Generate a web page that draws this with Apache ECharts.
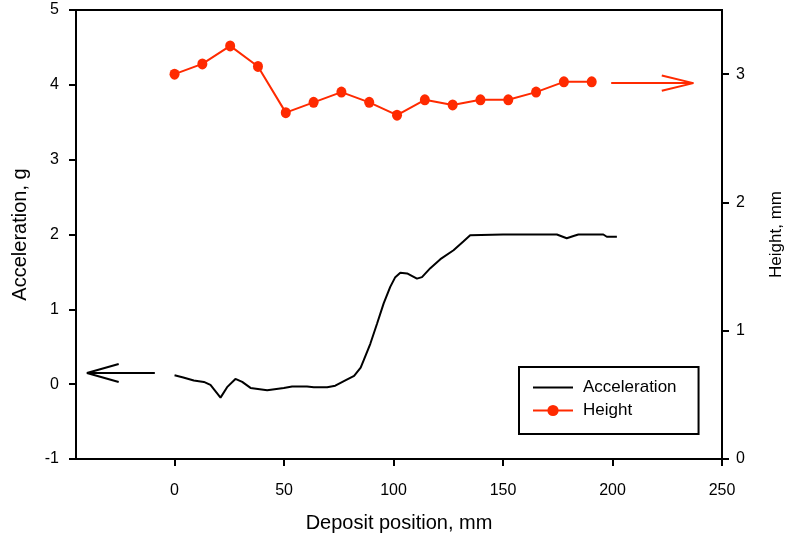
<!DOCTYPE html>
<html>
<head>
<meta charset="utf-8">
<script src="https://cdn.jsdelivr.net/npm/echarts@6/dist/echarts.min.js"></script>
<style>html,body{margin:0;padding:0;background:#fff}#c{width:785px;height:540px}</style>
</head>
<body>
<div id="c"></div>
<script>
// Acceleration trace (left axis)
const accX = [0, 4, 8.8, 13.4, 16.4, 21, 24, 27.8, 30.9, 34.7, 42.3, 49.9, 53.7, 60.5, 63.6, 69.7, 73.4, 78, 82, 85, 86.4, 89.4, 92.5, 95.5, 98.5, 100.8, 103.1, 106.2, 110.7, 113, 116.8, 121.4, 127.4, 132, 135, 150, 174.6, 179.1, 182.2, 184.4, 195.8, 197.4, 202];
const accY = [0.12, 0.09, 0.05, 0.03, -0.01, -0.18, -0.04, 0.07, 0.03, -0.05, -0.08, -0.05, -0.03, -0.03, -0.04, -0.04, -0.02, 0.05, 0.11, 0.22, 0.32, 0.54, 0.81, 1.08, 1.30, 1.43, 1.49, 1.48, 1.41, 1.43, 1.55, 1.67, 1.79, 1.91, 1.99, 2.0, 2.0, 1.95, 1.98, 2.0, 2.0, 1.97, 1.97];
// Height measurements (right axis)
const heightX = [0, 12.7, 25.4, 38.1, 50.8, 63.5, 76.2, 88.9, 101.6, 114.3, 127, 139.7, 152.4, 165.1, 177.8, 190.5];
const heightY = [3.00, 3.08, 3.22, 3.06, 2.70, 2.78, 2.86, 2.78, 2.68, 2.80, 2.76, 2.80, 2.80, 2.86, 2.94, 2.94];
// Annotation arrows (data coordinates)
const leftArrowShaft = [[-9, 0.15], [-40, 0.15]];
const leftArrowHead = [[-25.5, 0.27], [-40, 0.15], [-25.5, 0.03]];
const rightArrowShaft = [[199.4, 2.93], [236.9, 2.93]];
const rightArrowHead = [[222.5, 2.99], [236.9, 2.93], [222.5, 2.87]];
// Ticks
const xTicks = [0, 50, 100, 150, 200, 250];
const rightTicks = [0, 1, 2, 3];

const FONT = 'Liberation Sans, Arial, sans-serif';
const RED = '#ff2a00';
const zip = (a, b) => a.map((v, i) => [v, b[i]]);

const chart = echarts.init(document.getElementById('c'), null, {renderer: 'canvas'});
chart.setOption({
  animation: false,
  backgroundColor: '#fff',
  grid: {left: 76, right: 63, top: 10, bottom: 81, show: true, borderColor: '#000', borderWidth: 2,
         backgroundColor: 'transparent', outerBoundsMode: 'none', containLabel: false},
  legend: {
    data: [{name: 'Acceleration', itemStyle: {color: 'rgba(0,0,0,0)', borderWidth: 0}}, 'Height'],
    orient: 'vertical', left: 519, top: 367,
    itemWidth: 40, itemHeight: 14, itemGap: 6,
    padding: [12, 22, 15, 13],
    borderColor: '#000', borderWidth: 2,
    textStyle: {fontFamily: FONT, fontSize: 17, color: '#000', padding: [0, 0, 0, 5]}
  },
  xAxis: {
    type: 'value', min: -45, max: 250,
    name: 'Deposit position, mm', nameLocation: 'middle', nameGap: 54,
    nameTextStyle: {fontFamily: FONT, fontSize: 20, color: '#000'},
    axisLine: {onZero: false, lineStyle: {color: '#000', width: 2}},
    axisTick: {customValues: xTicks, length: 7, lineStyle: {color: '#000', width: 2}},
    axisLabel: {customValues: xTicks, margin: 24, fontFamily: FONT, fontSize: 16, color: '#000'},
    splitLine: {show: false}
  },
  yAxis: [{
    type: 'value', min: -1, max: 5, interval: 1, position: 'left',
    name: 'Acceleration, g', nameLocation: 'middle', nameGap: 46,
    nameTextStyle: {fontFamily: FONT, fontSize: 20, color: '#000'},
    axisLine: {show: true, onZero: false, lineStyle: {color: '#000', width: 2}},
    axisTick: {show: true, length: 7, lineStyle: {color: '#000', width: 2}},
    axisLabel: {margin: 17, fontFamily: FONT, fontSize: 16, color: '#000'},
    splitLine: {show: false}
  }, {
    type: 'value', min: 0, max: 3.5, position: 'right',
    name: 'Height, mm', nameLocation: 'middle', nameGap: 46, nameRotate: 90,
    nameTextStyle: {fontFamily: FONT, fontSize: 17, color: '#000'},
    axisLine: {show: true, onZero: false, lineStyle: {color: '#000', width: 2}},
    axisTick: {show: true, customValues: rightTicks, length: 7, lineStyle: {color: '#000', width: 2}},
    axisLabel: {customValues: rightTicks, margin: 14, fontFamily: FONT, fontSize: 16, color: '#000'},
    splitLine: {show: false}
  }],
  series: [{
    name: 'Acceleration', type: 'line', yAxisIndex: 0,
    data: zip(accX, accY), showSymbol: false, symbol: 'none',
    lineStyle: {color: '#000', width: 2}, itemStyle: {color: '#000'}
  }, {
    name: 'Height', type: 'line', yAxisIndex: 1,
    data: zip(heightX, heightY), symbol: 'circle', symbolSize: [10, 11],
    lineStyle: {color: RED, width: 2}, itemStyle: {color: RED}
  }, {
    type: 'line', yAxisIndex: 0, data: leftArrowShaft, symbol: 'none', silent: true,
    lineStyle: {color: '#000', width: 2}
  }, {
    type: 'line', yAxisIndex: 0, data: leftArrowHead, symbol: 'none', silent: true,
    lineStyle: {color: '#000', width: 2}
  }, {
    type: 'line', yAxisIndex: 1, data: rightArrowShaft, symbol: 'none', silent: true,
    lineStyle: {color: RED, width: 2}
  }, {
    type: 'line', yAxisIndex: 1, data: rightArrowHead, symbol: 'none', silent: true,
    lineStyle: {color: RED, width: 2}
  }]
});
</script>
</body>
</html>
